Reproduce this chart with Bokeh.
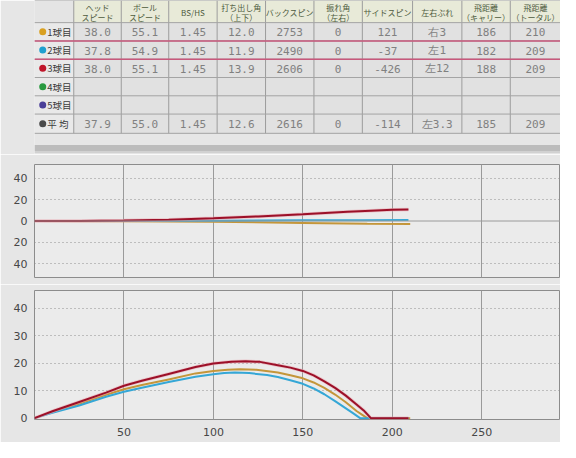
from bokeh.plotting import figure
from bokeh.layouts import column
from bokeh.models import Range1d, FixedTicker, Span
from bokeh.core.properties import value
from bokeh.embed import file_html
from bokeh.resources import INLINE

# ---------------- table data ----------------
row_labels = ["1球目", "2球目", "3球目", "4球目", "5球目", "平 均"]
headers = ["ヘッド\nスピード", "ボール\nスピード", "BS/HS", "打ち出し角\n（上下）", "バックスピン",
           "振れ角\n（左右）", "サイドスピン", "左右ぶれ", "飛距離\n（キャリー）", "飛距離\n（トータル）"]
head_speed = ["38.0", "37.8", "38.0", "", "", "37.9"]
ball_speed = ["55.1", "54.9", "55.1", "", "", "55.0"]
bs_hs = ["1.45", "1.45", "1.45", "", "", "1.45"]
launch_angle = ["12.0", "11.9", "13.9", "", "", "12.6"]
back_spin = ["2753", "2490", "2606", "", "", "2616"]
swing_angle = ["0", "0", "0", "", "", "0"]
side_spin = ["121", "-37", "-426", "", "", "-114"]
deviation = ["右3", "左1", "左12", "", "", "左3.3"]
carry = ["186", "182", "188", "", "", "185"]
total = ["210", "209", "209", "", "", "209"]

# ---------------- trajectory data (yards) ----------------
# side view (height)
b1_x = [0, 10, 25, 40, 50, 60, 75, 90, 100, 108, 115, 124, 136, 143, 150, 156, 162, 168, 174, 180, 183, 186, 210]
b1_h = [0, 2.2, 5.2, 8.5, 10.5, 12.1, 14.1, 16.3, 17.2, 17.6, 17.8, 17.6, 16.6, 15.6, 14.5, 13.0, 11.0, 8.6, 5.8,
        2.6, 1.3, 0, 0]
b2_x = [0, 10, 25, 40, 50, 60, 75, 90, 100, 106, 112, 120, 130, 136, 143, 150, 156, 162, 168, 173, 178, 182, 209]
b2_h = [0, 1.9, 4.6, 7.8, 9.6, 11.1, 13.2, 15.1, 16.0, 16.4, 16.6, 16.4, 15.7, 15.0, 13.8, 12.5, 10.8, 8.7, 6.2,
        4.0, 1.8, 0, 0]
b3_x = [0, 10, 25, 40, 50, 60, 75, 90, 100, 110, 118, 126, 136, 143, 150, 156, 162, 168, 174, 180, 184, 188, 209]
b3_h = [0, 2.5, 5.9, 9.3, 11.8, 13.6, 16.1, 18.6, 19.9, 20.5, 20.7, 20.5, 19.3, 18.4, 17.2, 15.6, 13.4, 11.0, 8.2,
        5.0, 2.8, 0, 0]
# top view (left/right deviation, left positive)
b1_sx = [0, 50, 100, 150, 186, 210]
b1_sy = [0, -0.2, -0.8, -1.8, -2.5, -2.7]
b2_sx = [0, 50, 100, 150, 182, 209]
b2_sy = [0, 0.1, 0.3, 0.6, 0.8, 0.9]
b3_sx = [0, 25, 50, 75, 100, 125, 150, 175, 188, 200, 209]
b3_sy = [0, 0.1, 0.4, 1.2, 2.5, 4.3, 6.4, 8.6, 9.6, 10.5, 10.9]

x_ticks = [50, 100, 150, 200, 250]
side_ticks = [-40, -20, 0, 20, 40]
height_ticks = [0, 10, 20, 30, 40]

# ---------------- styles ----------------
C1, C2, C3 = "#c4963a", "#35a7d6", "#9c1028"
dot_colors = ["#d9a020", "#1fa0cf", "#c0162a", "#2a9a40", "#4a3f98", "#4a4a4a"]
BG = "#e6e6e6"
NUM_FONT = value("DejaVu Sans Mono")
JP_FONT = value("Noto Sans CJK JP")
AX_FONT = "DejaVu Sans"

# ---------------- table figure ----------------
cols = [0, 43, 95, 147, 200, 253, 306, 359, 414, 468, 521, 576]
rows = [0, 23, 42, 61, 80, 99, 118, 138]

pt = figure(width=560, height=154, x_range=Range1d(0, 576), y_range=Range1d(160, 0),
            output_backend="svg", toolbar_location=None, min_border=0)
pt.axis.visible = False
pt.grid.visible = False
pt.outline_line_color = None
pt.background_fill_color = BG
pt.border_fill_color = BG

L, R, T, B, F = [], [], [], [], []
for ri in range(len(rows) - 1):
    for ci in range(len(cols) - 1):
        L.append(cols[ci]); R.append(cols[ci + 1]); T.append(rows[ri]); B.append(rows[ri + 1])
        if ri == 0:
            F.append("#e4e4e4" if ci == 0 else "#e8ead8")
        elif ci == 0:
            F.append("#e9e9e9")
        else:
            F.append("#e1e1e1")
pt.quad(left=L, right=R, top=T, bottom=B, fill_color=F, line_color=None)

# band under the table
pt.quad(left=[0], right=[576], top=[150], bottom=[157], fill_color="#bcbcbc", line_color=None)
pt.segment(x0=[0], y0=[158], x1=[576], y1=[158], line_color="#cfcfcf", line_width=1)

# grid lines
pt.segment(x0=cols[1:-1], y0=[0] * (len(cols) - 2), x1=cols[1:-1], y1=[rows[-1]] * (len(cols) - 2),
           line_color="#9c9c9c", line_width=1)
pt.segment(x0=[0] * len(rows), y0=rows, x1=[576] * len(rows), y1=rows, line_color="#a4a4a4", line_width=1)
pt.segment(x0=[0, 0], y0=[rows[2], rows[3]], x1=[576, 576], y1=[rows[2], rows[3]],
           line_color="#c8587c", line_width=1.6)

# header texts (split on line breaks, placed line by line)
hx = [(cols[i] + cols[i + 1]) / 2 for i in range(1, len(cols) - 1)]
h_x, h_y, h_t = [], [], []
for x, h in zip(hx, headers):
    parts = h.split("\n")
    if len(parts) == 1:
        h_x.append(x); h_y.append(12); h_t.append(parts[0])
    else:
        h_x += [x, x]; h_y += [7.5, 17.5]; h_t += parts
pt.text(x=h_x, y=h_y, text=h_t, text_align="center", text_baseline="middle",
        text_font=JP_FONT, text_font_size="8px", text_color="#4d5a3c")

# row labels and dots
rc = [(rows[i] + rows[i + 1]) / 2 for i in range(1, len(rows) - 1)]
pt.scatter(x=[9] * len(rc), y=rc, size=7, fill_color=dot_colors, line_color=None)
pt.text(x=[14] * len(rc), y=rc, text=row_labels, text_align="left", text_baseline="middle",
        text_font=JP_FONT, text_font_size="9.5px", text_color="#3c3c3c")

columns_data = [head_speed, ball_speed, bs_hs, launch_angle, back_spin, swing_angle,
                side_spin, deviation, carry, total]
tx, ty, tt = [], [], []
for ci, col in enumerate(columns_data):
    for ri, v in enumerate(col):
        if v:
            tx.append(hx[ci]); ty.append(rc[ri] + 0.5); tt.append(v)
pt.text(x=tx, y=ty, text=tt, text_align="center", text_baseline="middle",
        text_font=NUM_FONT, text_font_size="11px", text_color="#808080")


def style_chart(p):
    p.background_fill_color = "#ebebeb"
    p.border_fill_color = BG
    p.outline_line_color = "#8c8c8c"
    p.outline_line_width = 1
    for ax in p.axis:
        ax.axis_line_color = None
        ax.major_tick_line_color = None
        ax.minor_tick_line_color = None
        ax.major_tick_out = 0
        ax.major_tick_in = 0
        ax.minor_tick_out = 0
        ax.minor_tick_in = 0
        ax.major_label_text_font = AX_FONT
        ax.major_label_text_font_size = "11px"
        ax.major_label_text_color = "#474747"
    p.xgrid.ticker = FixedTicker(ticks=x_ticks)
    p.xgrid.grid_line_color = "#9a9a9a"
    p.xgrid.grid_line_width = 1
    p.ygrid.grid_line_color = "#8e8e8e"
    p.ygrid.grid_line_dash = "1 3"
    p.ygrid.grid_line_width = 1


# ---------------- top view chart ----------------
p1 = figure(width=560, height=130, x_range=Range1d(0, 294), y_range=Range1d(-53, 53),
            output_backend="svg", toolbar_location=None,
            min_border_left=34, min_border_right=0, min_border_top=10, min_border_bottom=7)
p1.xaxis.visible = False
p1.yaxis.ticker = FixedTicker(ticks=side_ticks)
p1.yaxis.major_label_overrides = {t: str(abs(t)) for t in side_ticks}
p1.yaxis.major_label_standoff = 7
style_chart(p1)
p1.ygrid.ticker = FixedTicker(ticks=[t for t in side_ticks if t != 0])
p1.add_layout(Span(location=0, dimension="width", line_color="#9a9a9a", line_width=1))
p1.line(b1_sx, b1_sy, line_color=C1, line_width=2)
p1.line(b2_sx, b2_sy, line_color=C2, line_width=2)
p1.line(b3_sx, b3_sy, line_color="#e9a8b2", line_width=3.5, line_alpha=0.6)
p1.line(b3_sx, b3_sy, line_color=C3, line_width=2)

# ---------------- side view chart ----------------
p2 = figure(width=560, height=158, x_range=Range1d(0, 294), y_range=Range1d(-0.5, 46.5),
            output_backend="svg", toolbar_location=None,
            min_border_left=34, min_border_right=0, min_border_top=6, min_border_bottom=23)
p2.xaxis.ticker = FixedTicker(ticks=x_ticks)
p2.xaxis.major_label_standoff = 8
p2.yaxis.ticker = FixedTicker(ticks=height_ticks)
p2.yaxis.major_label_standoff = 7
style_chart(p2)
p2.ygrid.ticker = FixedTicker(ticks=[t for t in height_ticks if t != 0])
p2.line(b1_x, b1_h, line_color=C1, line_width=2, line_join="round")
p2.line(b2_x, b2_h, line_color=C2, line_width=2, line_join="round")
p2.line(b3_x, b3_h, line_color="#e9a8b2", line_width=3.5, line_alpha=0.6, line_join="round")
p2.line(b3_x, b3_h, line_color=C3, line_width=2, line_join="round")

layout = column(pt, p1, p2, spacing=0)
open("out.html", "w").write(file_html(layout, INLINE))
